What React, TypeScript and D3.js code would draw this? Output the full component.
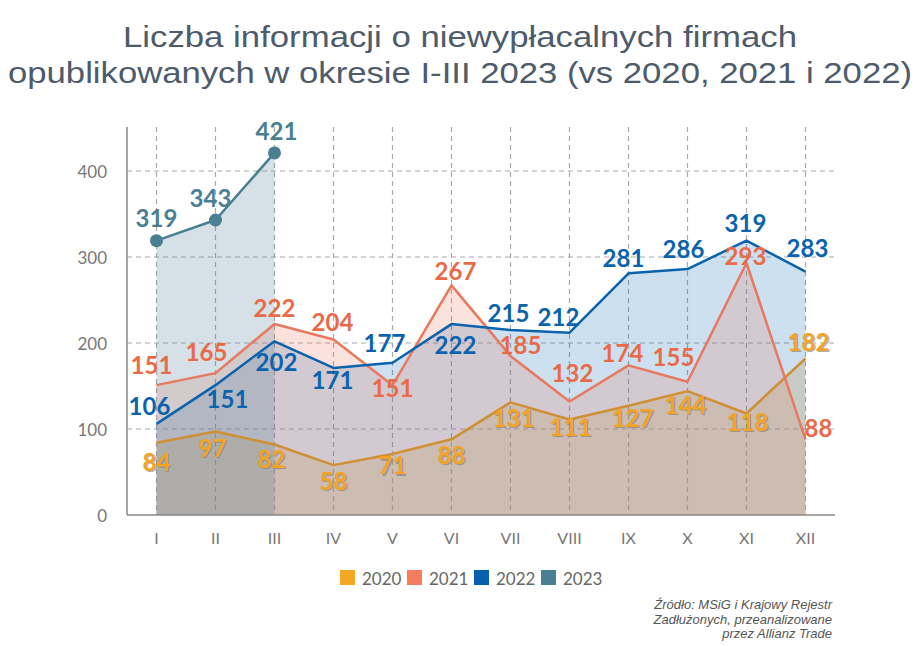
import React, { useEffect } from "react";
import * as d3 from "d3";

const months = ["I", "II", "III", "IV", "V", "VI", "VII", "VIII", "IX", "X", "XI", "XII"];
const yTicks = [0, 100, 200, 300, 400];
const v2020 = [84, 97, 82, 58, 71, 88, 131, 111, 127, 144, 118, 182];
const v2021 = [151, 165, 222, 204, 151, 267, 185, 132, 174, 155, 293, 88];
const v2022 = [106, 151, 202, 171, 177, 222, 215, 212, 281, 286, 319, 283];
const v2023 = [319, 343, 421];
const years = ["2020", "2021", "2022", "2023"];

// label offsets (dx, dy) relative to the point
const lab2020 = [[0, 19], [-3, 16], [-3, 14], [0, 15], [0, 11], [0, 15], [3, 15], [1, 7], [4, 12], [-2, 13], [1, 8], [3, -17]];
const lab2021 = [[-5, -21], [-9, -22], [0, -17], [-1, -18], [0, 2], [4, -15], [10, -11], [3, -29], [-6, -13], [-14, -25], [-1, -8], [13, -12]];
const lab2022 = [[-7, -18], [12, 13], [2, 20], [-1, 12], [-8, -20], [4, 20], [-2, -18], [-11, -16], [-5, -16], [-4, -21], [-1, -18], [2, -24]];
const lab2023 = [[0, -23], [-5, -23], [2, -22]];

const W = 917, H = 646;
const L = 127, R = 835, T = 127;

export default function App() {
  useEffect(() => {
    document.body.style.margin = "0";
  }, []);

  const xb = d3.scaleBand<string>().domain(months).range([L, R]);
  const x = (m: string) => (xb(m) as number) + xb.bandwidth() / 2;
  const y = d3.scaleLinear().domain([0, 400]).range([515, 171]);
  const B = y(0);

  const series = [
    { name: "2023", vals: v2023, line: "#4a7f91", text: "#4a7f91", fill: "#4a7f91", fo: 0.23, labs: lab2023 },
    { name: "2022", vals: v2022, line: "#0a63ae", text: "#0a63ae", fill: "#0064b4", fo: 0.2, labs: lab2022 },
    { name: "2021", vals: v2021, line: "#e8785e", text: "#ea6a48", fill: "#f07050", fo: 0.2, labs: lab2021 },
    { name: "2020", vals: v2020, line: "#cf8f35", text: "#f4a322", fill: "#bfa06b", fo: 0.3, labs: lab2020 },
  ];
  const legendColors: Record<string, string> = { "2020": "#f5a623", "2021": "#f57c5c", "2022": "#0560ad", "2023": "#4a7f91" };

  const area = d3.area<number>().x((_, i) => x(months[i])).y0(B).y1((d) => y(d));
  const line = d3.line<number>().x((_, i) => x(months[i])).y((d) => y(d));

  const labelFont = "Lato, 'Open Sans', sans-serif";
  const drawOrder = ["2022", "2021", "2020", "2023"];

  return (
    <svg width={W} height={H} style={{ display: "block", background: "#fff" }}>
      <text x={460} y={47} textAnchor="middle" fontFamily="'Liberation Sans Narrow', 'Liberation Sans', sans-serif" fontSize={30} fill="#4d5b6b" textLength={674} lengthAdjust="spacingAndGlyphs">
        Liczba informacji o niewypłacalnych firmach
      </text>
      <text x={460} y={83} textAnchor="middle" fontFamily="'Liberation Sans Narrow', 'Liberation Sans', sans-serif" fontSize={30} fill="#4d5b6b" textLength={904} lengthAdjust="spacingAndGlyphs">
        opublikowanych w okresie I-III 2023 (vs 2020, 2021 i 2022)
      </text>

      {/* grid */}
      {yTicks.filter((t) => t > 0).map((t) => (
        <line key={"h" + t} x1={L} x2={R} y1={y(t)} y2={y(t)} stroke="#aaa" strokeWidth={1.2} strokeDasharray="5,4" />
      ))}
      {months.map((m) => (
        <line key={"v" + m} x1={x(m)} x2={x(m)} y1={T} y2={B} stroke="#aaa" strokeWidth={1.2} strokeDasharray="5,4" />
      ))}

      {/* areas */}
      {drawOrder.map((n) => {
        const s = series.find((q) => q.name === n)!;
        return <path key={"a" + n} d={area(s.vals) as string} fill={s.fill} fillOpacity={s.fo} />;
      })}

      {/* axes */}
      <line x1={L} x2={L} y1={T} y2={B} stroke="#888" strokeWidth={1.5} />
      <line x1={L} x2={R} y1={B} y2={B} stroke="#888" strokeWidth={1.5} />
      {yTicks.map((t) => (
        <text key={"yt" + t} x={107} y={y(t)} textAnchor="end" dominantBaseline="central" fontFamily={labelFont} fontSize={17} fill="#777">
          {t}
        </text>
      ))}
      {months.map((m) => (
        <text key={"xt" + m} x={x(m)} y={537} textAnchor="middle" dominantBaseline="central" fontFamily={labelFont} fontSize={16} fill="#777">
          {m}
        </text>
      ))}

      {/* lines */}
      {["2020", "2021", "2022", "2023"].map((n) => {
        const s = series.find((q) => q.name === n)!;
        return <path key={"l" + n} d={line(s.vals) as string} fill="none" stroke={s.line} strokeWidth={2.5} strokeLinejoin="round" />;
      })}
      {v2023.map((v, i) => (
        <circle key={"c" + i} cx={x(months[i])} cy={y(v)} r={6.5} fill="#4a7f91" />
      ))}

      {/* labels */}
      {series.map((s) =>
        s.vals.map((v, i) => {
          const cx = x(months[i]) + s.labs[i][0];
          const cy = y(v) + s.labs[i][1];
          return (
            <g key={"lb" + s.name + i}>
              {s.name === "2020" && (
                <text x={cx + 1.2} y={cy + 1.2} textAnchor="middle" dominantBaseline="central" fontFamily={labelFont} fontWeight={700} fontSize={24} fill="#7a7a7a" fillOpacity={0.6}>
                  {v}
                </text>
              )}
              <text x={cx} y={cy} textAnchor="middle" dominantBaseline="central" fontFamily={labelFont} fontWeight={700} fontSize={24} fill={s.text}>
                {v}
              </text>
            </g>
          );
        })
      )}

      {/* legend */}
      {years.map((yr, i) => (
        <g key={"lg" + yr} transform={`translate(${340 + i * 67},570)`}>
          <rect width={15} height={15} fill={legendColors[yr]} />
          <text x={22} y={8} dominantBaseline="central" fontFamily={labelFont} fontSize={17} fill="#666">
            {yr}
          </text>
        </g>
      ))}

      {/* source */}
      {["Źródło: MSiG i Krajowy Rejestr", "Zadłużonych, przeanalizowane", "przez Allianz Trade"].map((t, i) => (
        <text key={"src" + i} x={832} y={609 + i * 14.5} textAnchor="end" fontFamily="'Liberation Sans', Arial, sans-serif" fontStyle="italic" fontSize={13} fill="#555">
          {t}
        </text>
      ))}
    </svg>
  );
}
